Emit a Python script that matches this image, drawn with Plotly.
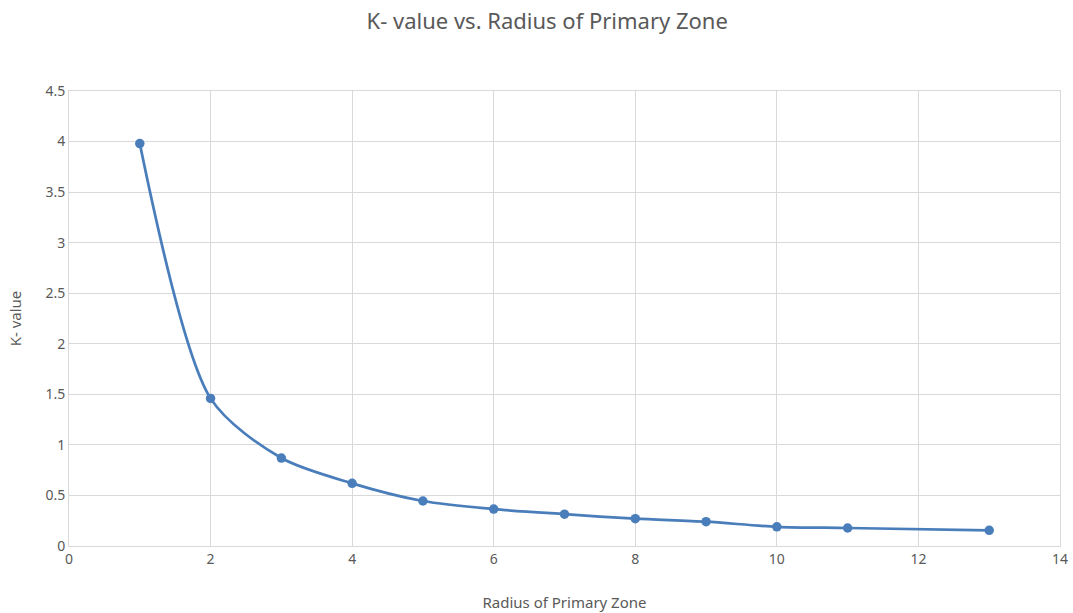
import plotly.graph_objects as go

radius = [1, 2, 3, 4, 5, 6, 7, 8, 9, 10, 11, 13]
k_value = [3.98, 1.46, 0.87, 0.62, 0.445, 0.365, 0.315, 0.27, 0.24, 0.19, 0.178, 0.155]

fig = go.Figure()
fig.add_trace(go.Scatter(
    x=radius, y=k_value, mode="lines+markers",
    line=dict(color="#4a7ebb", width=2.75, shape="spline", smoothing=0.8),
    marker=dict(color="#4a7ebb", size=9.5),
    showlegend=False,
))

font_family = "Noto Sans"
fig.update_layout(
    width=1073, height=613,
    margin=dict(l=69, r=13, t=91, b=67, autoexpand=False),
    paper_bgcolor="white", plot_bgcolor="white",
    title=dict(text="K- value vs. Radius of Primary Zone", x=0.51, xanchor="center",
               y=0.965, yanchor="middle",
               font=dict(family=font_family, size=22, color="#595959")),
    font=dict(family=font_family, color="#595959", size=13),
)
fig.update_xaxes(
    range=[0, 14], tickvals=list(range(0, 15, 2)),
    showgrid=True, gridcolor="#d9d9d9", gridwidth=1,
    zeroline=False, showline=True, linecolor="#d9d9d9", mirror=True,
    ticks="", ticklen=0, automargin=False,
    title=dict(text="Radius of Primary Zone", font=dict(size=15, color="#595959"), standoff=30),
    tickfont=dict(size=14, color="#595959"),
)
fig.update_yaxes(
    range=[0, 4.5], tickvals=[0, 0.5, 1, 1.5, 2, 2.5, 3, 3.5, 4, 4.5],
    ticktext=["0", "0.5", "1", "1.5", "2", "2.5", "3", "3.5", "4", "4.5"],
    showgrid=True, gridcolor="#d9d9d9", gridwidth=1,
    zeroline=False, showline=True, linecolor="#d9d9d9", mirror=True,
    ticks="", ticklen=0, automargin=False,
    title=dict(text="K- value", font=dict(size=15, color="#595959"), standoff=20),
    tickfont=dict(size=14, color="#595959"),
)

fig.write_html("out.html")
